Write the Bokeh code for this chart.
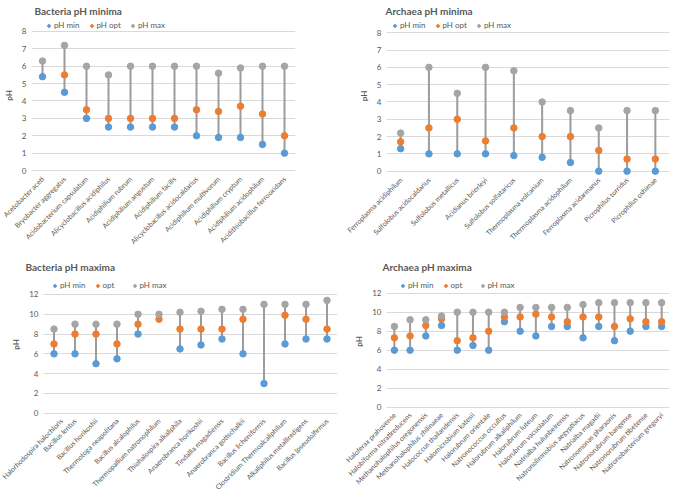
import numpy as np
from math import pi
from bokeh.plotting import figure
from bokeh.models import (FactorRange, Range1d, FixedTicker, Legend, LegendItem,
                          ColumnDataSource)
from bokeh.layouts import column, row
from bokeh.embed import file_html
from bokeh.resources import INLINE

nan = float("nan")

# ---- Bacteria pH minima ----
bmin_species = ["Acetobacter aceti", "Bryobacter aggregatus", "Acidobacterium capsulatum",
                "Alicyclobacillus acidiphilus", "Acidiphilium rubrum", "Acidiphilium angustum",
                "Acidiphilium facilis", "Alicyclobacillus acidocaldarius", "Acidiphilium multivorum",
                "Acidiphilium cryptum", "Acidiphilium acidophilum", "Acidithiobacillus ferrooxidans"]
bmin_low = [5.4, 4.5, 3.0, 2.5, 2.5, 2.5, 2.5, 2.0, 1.9, 1.9, 1.5, 1.0]
bmin_opt = [nan, 5.5, 3.5, 3.0, 3.0, 3.0, 3.0, 3.5, 3.4, 3.7, 3.25, 2.0]
bmin_high = [6.3, 7.2, 6.0, 5.5, 6.0, 6.0, 6.0, 6.0, 5.6, 5.9, 6.0, 6.0]

# ---- Archaea pH minima ----
amin_species = ["Ferroplasma acidiphilum", "Sulfolobus acidocaldarius", "Sulfolobus metallicus",
                "Acidianus brierleyi", "Sulfolobus solfataricus", "Thermoplasma volcanium",
                "Thermoplasma acidophilum", "Ferroplasma acidarmanus", "Picrophilus torridus",
                "Picrophilus oshimae"]
amin_low = [1.3, 1.0, 1.0, 1.0, 0.9, 0.8, 0.5, 0.0, 0.0, 0.0]
amin_opt = [1.7, 2.5, 3.0, 1.75, 2.5, 2.0, 2.0, 1.2, 0.7, 0.7]
amin_high = [2.2, 6.0, 4.5, 6.0, 5.8, 4.0, 3.5, 2.5, 3.5, 3.5]

# ---- Bacteria pH maxima ----
bmax_species = ["Halorhodospira halochloris", "Bacillus lentus", "Bacillus horikoshii",
                "Thermotoga neapolitana", "Bacillus alcalophilus", "Thermopallium natronophilum",
                "Thiohalospira alkaliphila", "Anaerobranca horikoshii", "Tindallia magadiensis",
                "Anaerobranca gottschalkii", "Bacillus licheniformis", "Clostridium Thermoalcaliphilum",
                "Alkaliphilus metalliredigens", "Bacillus (pseudo)firmus"]
bmax_low = [6.0, 6.0, 5.0, 5.5, 8.0, nan, 6.5, 6.9, 7.5, 6.0, 3.0, 7.0, 7.5, 7.5]
bmax_opt = [7.0, 8.0, 8.0, 7.0, 9.0, 9.5, 8.5, 8.5, 8.5, 9.5, nan, 9.9, 9.5, 8.5]
bmax_high = [8.5, 9.0, 9.0, 9.0, 10.0, 10.0, 10.2, 10.3, 10.5, 10.5, 11.0, 11.0, 11.0, 11.4]

# ---- Archaea pH maxima ----
amax_species = ["Haloferax prahovense", "Halobiforma nitratireducens", "Methanohalophilus oregonensis",
                "Methanohalophilus zhilinaeae", "Halococcus thailandensis", "Halomicrobium katesii",
                "Halorubrum orientale", "Natronococcus occultus", "Halorubrum alkaliphilum",
                "Halorubrum luteum", "Halorubrum vacuolatum", "Natrialba hulunbeirensis",
                "Natronolimnobius aegyptiacus", "Natrialba magadii", "Natronomonas pharaonis",
                "Natronorubrum bangense", "Natronorubrum tibetense", "Natronobacterium gregoryi"]
amax_low = [6.0, 6.0, 7.5, 8.6, 6.0, 6.5, 6.0, 9.0, 8.0, 7.5, 8.5, 8.5, 7.3, 8.5, 7.0, 8.0, 8.5, 8.5]
amax_opt = [7.3, 7.5, 8.6, 9.3, 7.0, 7.3, 8.0, 9.5, 9.5, 9.8, 9.5, 9.0, 9.5, 9.5, 8.5, 9.3, 9.0, 9.0]
amax_high = [8.5, 9.2, 9.2, 9.6, 10.0, 10.0, 10.0, 10.0, 10.5, 10.5, 10.5, 10.5, 10.8, 11.0, 11.0, 11.0, 11.0, 11.0]

FONT = "Lato"
C_MIN = "#5B9BD5"
C_OPT = "#ED7D31"
C_MAX = "#A5A5A5"
C_LINE = "#9C9C9C"
TXT = "#595959"


def panel(title, cats, lo, op, hi, ymax, ystep, ytop, ybot, opt_label,
          fw, fh, bl, br, bt, title_dx, leg_x, leg_y):
    lo = np.array(lo, dtype=float)
    op = np.array(op, dtype=float)
    hi = np.array(hi, dtype=float)
    stack = np.vstack([lo, op, hi])
    src = ColumnDataSource(dict(x=cats, lo=lo, op=op, hi=hi,
                                y0=np.nanmin(stack, axis=0), y1=np.nanmax(stack, axis=0)))
    p = figure(x_range=FactorRange(*cats), y_range=Range1d(ybot, ytop),
               frame_width=fw, frame_height=fh, output_backend="svg", toolbar_location=None,
               title=title, min_border_left=bl, min_border_right=br,
               min_border_bottom=0, min_border_top=bt)
    p.segment(x0="x", y0="y0", x1="x", y1="y1", source=src, line_color=C_LINE, line_width=2)
    r1 = p.scatter("x", "lo", source=src, size=6.5, color=C_MIN)
    r2 = p.scatter("x", "op", source=src, size=6.5, color=C_OPT)
    r3 = p.scatter("x", "hi", source=src, size=6.5, color=C_MAX)
    leg = Legend(items=[LegendItem(label="pH min", renderers=[r1]),
                        LegendItem(label=opt_label, renderers=[r2]),
                        LegendItem(label="pH max", renderers=[r3])],
                 orientation="horizontal", location=(leg_x, leg_y))
    leg.label_text_font = FONT
    leg.label_text_font_size = "8px"
    leg.label_text_color = TXT
    leg.glyph_width = 7
    leg.glyph_height = 7
    leg.label_height = 8
    leg.label_standoff = 2
    leg.spacing = 8
    leg.padding = 1
    leg.margin = 0
    leg.border_line_color = None
    leg.background_fill_alpha = 0
    p.add_layout(leg)

    p.title.text_font = FONT
    p.title.text_font_size = "10px"
    p.title.text_font_style = "bold"
    p.title.text_color = TXT
    p.title.offset = title_dx
    p.title.standoff = 0

    p.yaxis.ticker = FixedTicker(ticks=list(range(0, ymax + 1, ystep)))
    p.yaxis.axis_label = "pH"
    p.yaxis.axis_label_text_font = FONT
    p.yaxis.axis_label_text_font_size = "8px"
    p.yaxis.axis_label_text_font_style = "bold"
    p.yaxis.axis_label_text_color = TXT
    p.yaxis.axis_label_standoff = 5
    p.yaxis.major_label_text_font = FONT
    p.yaxis.major_label_text_font_size = "8px"
    p.yaxis.major_label_text_color = TXT
    p.yaxis.major_label_standoff = 5

    p.xaxis.major_label_orientation = pi / 4
    p.xaxis.major_label_text_font = FONT
    p.xaxis.major_label_text_font_size = "7px"
    p.xaxis.major_label_text_color = TXT
    p.xaxis.major_label_standoff = 3

    for ax in (p.xaxis, p.yaxis):
        ax.axis_line_color = None
        ax.major_tick_line_color = None
        ax.minor_tick_line_color = None
        ax.major_tick_out = 0
        ax.major_tick_in = 0
        ax.minor_tick_out = 0
        ax.minor_tick_in = 0

    p.xgrid.grid_line_color = None
    p.ygrid.grid_line_color = "#D9D9D9"
    p.outline_line_color = None
    p.background_fill_color = "white"
    return p


p1 = panel("Bacteria pH minima", bmin_species, bmin_low, bmin_opt, bmin_high, 8, 1, 8.863, -0.23,
           "pH opt", 264, 158, 26, 50, 16, 3, 14, 144)
p2 = panel("Archaea pH minima", amin_species, amin_low, amin_opt, amin_high, 8, 1, 8.94, -0.25,
           "pH opt", 283, 159, 41, 5, 16, -1, 5, 145)
p3 = panel("Bacteria pH maxima", bmax_species, bmax_low, bmax_opt, bmax_high, 12, 2, 14.22, -0.33,
           "opt", 294, 144, 43, 3, 21, -18, 8, 126)
p4 = panel("Archaea pH maxima", amax_species, amax_low, amax_opt, amax_high, 12, 2, 14.18, -0.35,
           "opt", 283, 138, 46, 0, 21, -4, 13, 120)

layout = column(row(p1, p2), row(p3, p4))
open("out.html", "w").write(file_html(layout, INLINE))
